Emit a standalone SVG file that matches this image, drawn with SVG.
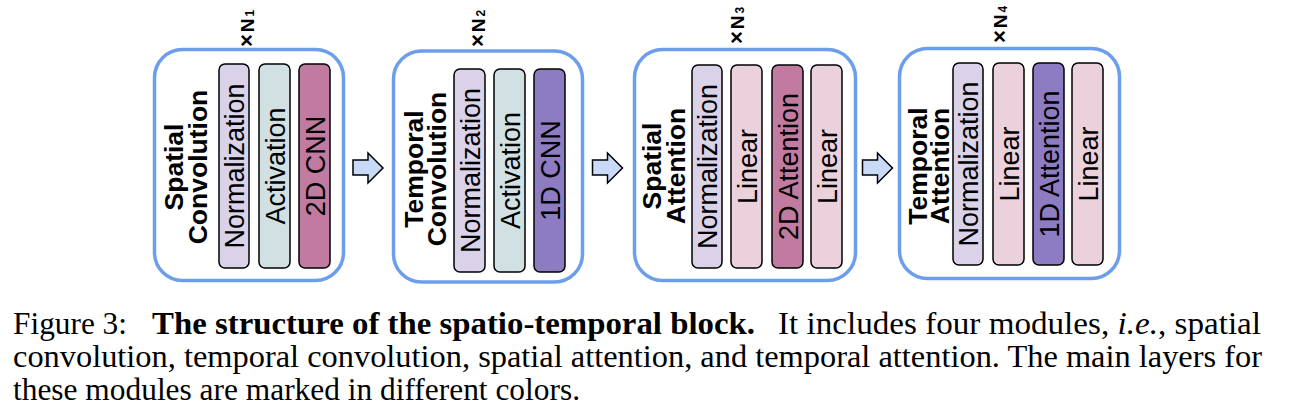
<svg xmlns="http://www.w3.org/2000/svg" xmlns:xlink="http://www.w3.org/1999/xlink" width="1295" height="413" viewBox="0 0 1295 413">
<style>
.box{fill:#ffffff;stroke:#6d9eeb;stroke-width:3.5}
.bar{stroke:#000000;stroke-width:1.5}
.norm{fill:#d9d2e9}
.act{fill:#d0e0e3}
.c2{fill:#c27ba0}
.c1{fill:#8e7cc3}
.lin{fill:#ead1dc}
.bt{font-family:"Liberation Sans",Arial,sans-serif;font-size:27px;fill:#000;text-anchor:middle}
.lbl{font-family:"Liberation Sans",Arial,sans-serif;font-size:26.5px;font-weight:bold;fill:#000;text-anchor:middle}
.rep{font-family:"Liberation Sans",Arial,sans-serif;font-size:19px;font-weight:bold;fill:#000}
.cap{font-family:"Liberation Serif","Times New Roman",Times,serif;font-size:31px;fill:#000}
.arrow{fill:#c9daf8;stroke:#000;stroke-width:1.5;stroke-linejoin:miter}
</style>
<defs>
<path id="blk" class="arrow" d="M0,7 H15 V0 L30,15 L15,30 V22 H0 Z"/>
</defs>

<g id="connectors">
<use xlink:href="#blk" href="#blk" x="353" y="153"/>
<use xlink:href="#blk" href="#blk" x="592.5" y="153"/>
<use xlink:href="#blk" href="#blk" x="862.5" y="153"/>
</g>

<g id="spatial-convolution">
<rect class="box" x="154.5" y="49.5" width="189" height="231" rx="28"/>
<text class="lbl" transform="translate(183,167) rotate(-90)">Spatial</text>
<text class="lbl" transform="translate(207,167) rotate(-90)">Convolution</text>
<rect class="bar norm" x="219" y="64" width="30" height="204" rx="6"/>
<rect class="bar act" x="259" y="64" width="31" height="204" rx="6"/>
<rect class="bar c2" x="299" y="64" width="31" height="204" rx="6"/>
<text class="bt" transform="translate(244,166) rotate(-90)">Normalization</text>
<text class="bt" transform="translate(284.5,166) rotate(-90)">Activation</text>
<text class="bt" transform="translate(324.5,166) rotate(-90)">2D CNN</text>
<text class="rep" transform="translate(254,47) rotate(-90)"><tspan font-size="22">×</tspan><tspan dx="2">N</tspan><tspan dx="2" font-size="12">1</tspan></text>
</g>

<g id="temporal-convolution">
<rect class="box" x="393.5" y="51" width="189" height="231" rx="28"/>
<text class="lbl" transform="translate(423,169) rotate(-90)">Temporal</text>
<text class="lbl" transform="translate(446,169) rotate(-90)">Convolution</text>
<rect class="bar norm" x="454" y="69" width="31" height="203" rx="6"/>
<rect class="bar act" x="494" y="69" width="31" height="203" rx="6"/>
<rect class="bar c1" x="534" y="69" width="31" height="203" rx="6"/>
<text class="bt" transform="translate(479.5,170.5) rotate(-90)">Normalization</text>
<text class="bt" transform="translate(519.5,170.5) rotate(-90)">Activation</text>
<text class="bt" transform="translate(559.5,170.5) rotate(-90)">1D CNN</text>
<text class="rep" transform="translate(485,47) rotate(-90)"><tspan font-size="22">×</tspan><tspan dx="2">N</tspan><tspan dx="2" font-size="12">2</tspan></text>
</g>

<g id="spatial-attention">
<rect class="box" x="634.5" y="49.5" width="221" height="231" rx="28"/>
<text class="lbl" transform="translate(661,166) rotate(-90)">Spatial</text>
<text class="lbl" transform="translate(685,166) rotate(-90)">Attention</text>
<rect class="bar norm" x="692" y="65" width="30" height="203" rx="6"/>
<rect class="bar lin" x="731" y="65" width="31" height="203" rx="6"/>
<rect class="bar c2" x="772" y="65" width="31" height="203" rx="6"/>
<rect class="bar lin" x="811" y="65" width="31" height="203" rx="6"/>
<text class="bt" transform="translate(717,166.5) rotate(-90)">Normalization</text>
<text class="bt" transform="translate(756.5,166.5) rotate(-90)">Linear</text>
<text class="bt" transform="translate(797.5,166.5) rotate(-90)">2D Attention</text>
<text class="bt" transform="translate(836.5,166.5) rotate(-90)">Linear</text>
<text class="rep" transform="translate(744,44) rotate(-90)"><tspan font-size="22">×</tspan><tspan dx="2">N</tspan><tspan dx="2" font-size="12">3</tspan></text>
</g>

<g id="temporal-attention">
<rect class="box" x="899.5" y="48.5" width="220" height="230" rx="28"/>
<text class="lbl" transform="translate(927,166) rotate(-90)">Temporal</text>
<text class="lbl" transform="translate(949,166) rotate(-90)">Attention</text>
<rect class="bar norm" x="953" y="63" width="30" height="202" rx="6"/>
<rect class="bar lin" x="993" y="63" width="31" height="202" rx="6"/>
<rect class="bar c1" x="1033" y="63" width="31" height="202" rx="6"/>
<rect class="bar lin" x="1072" y="63" width="31" height="202" rx="6"/>
<text class="bt" transform="translate(978,164) rotate(-90)">Normalization</text>
<text class="bt" transform="translate(1018.5,164) rotate(-90)">Linear</text>
<text class="bt" transform="translate(1058.5,164) rotate(-90)">1D Attention</text>
<text class="bt" transform="translate(1097.5,164) rotate(-90)">Linear</text>
<text class="rep" transform="translate(1007,43) rotate(-90)"><tspan font-size="22">×</tspan><tspan dx="2">N</tspan><tspan dx="2" font-size="12">4</tspan></text>
</g>

<g id="caption">
<text class="cap" x="13" y="334" textLength="114" lengthAdjust="spacingAndGlyphs">Figure 3:</text>
<text class="cap" x="152" y="334" font-weight="bold" textLength="603" lengthAdjust="spacingAndGlyphs">The structure of the spatio-temporal block.</text>
<text class="cap" x="778" y="334" textLength="483" lengthAdjust="spacingAndGlyphs">It includes four modules, <tspan font-style="italic">i.e.</tspan>, spatial</text>
<text class="cap" x="13" y="367" textLength="1249" lengthAdjust="spacingAndGlyphs">convolution, temporal convolution, spatial attention, and temporal attention.  The main layers for</text>
<text class="cap" x="13" y="400" textLength="567" lengthAdjust="spacingAndGlyphs">these modules are marked in different colors.</text>
</g>
</svg>
